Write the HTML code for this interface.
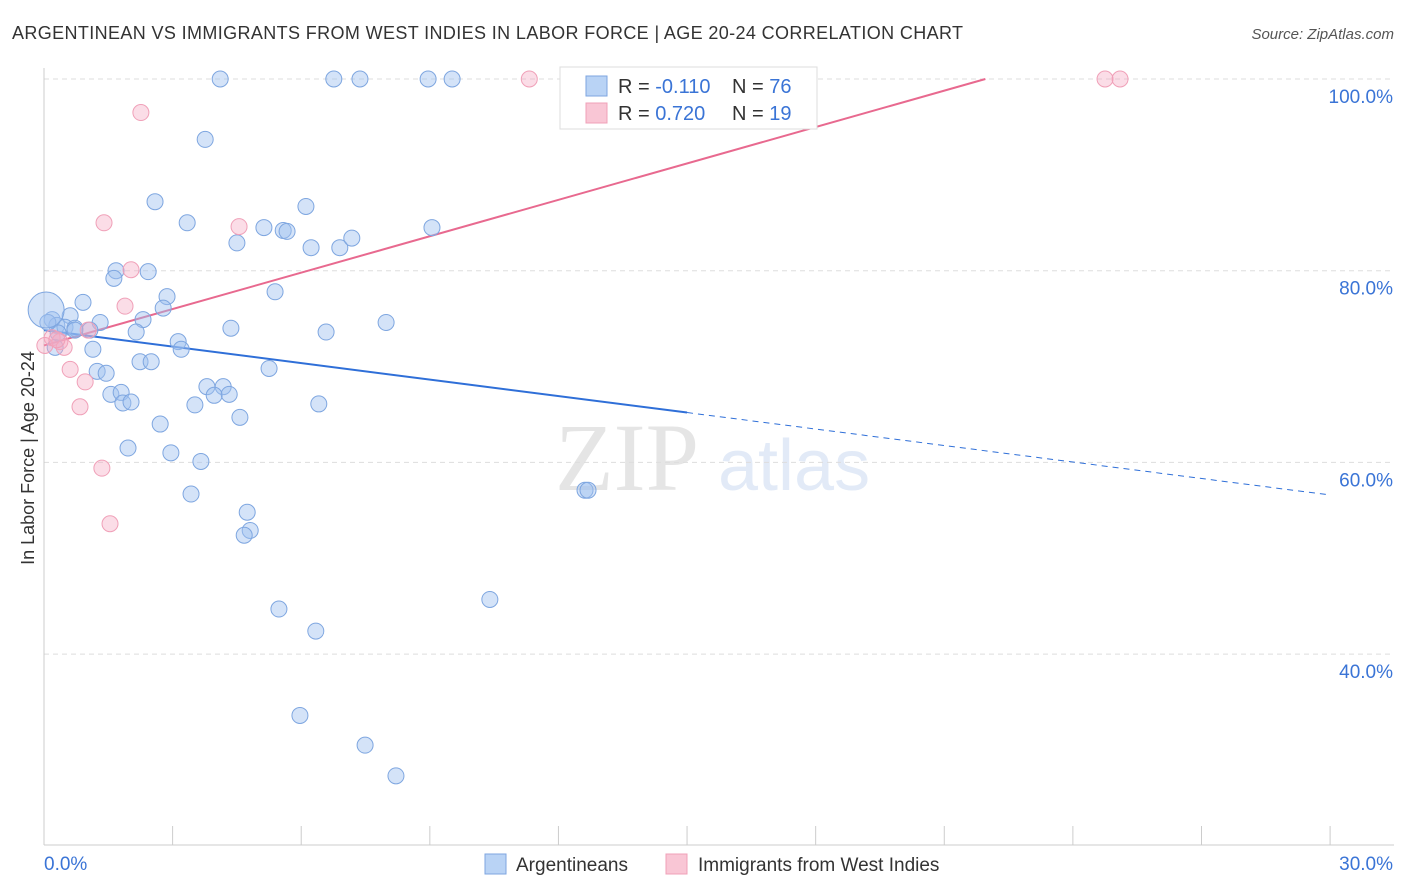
<!DOCTYPE html>
<html><head><meta charset="utf-8"><style>
body{margin:0;background:#fff;font-family:"Liberation Sans",sans-serif;}
svg{display:block}
</style></head><body>
<svg id="chart" width="1406" height="892">
<text x="12" y="39" font-size="18" fill="#333" textLength="951">ARGENTINEAN VS IMMIGRANTS FROM WEST INDIES IN LABOR FORCE | AGE 20-24 CORRELATION CHART</text>
<text x="1394" y="39" font-size="15" fill="#555" font-style="italic" text-anchor="end">Source: ZipAtlas.com</text>
<text x="0" y="0" transform="translate(34,458) rotate(-90)" font-size="18" fill="#333" text-anchor="middle">In Labor Force | Age 20-24</text>
<g opacity="0.25"><text x="555" y="490" font-family="Liberation Serif,serif" font-size="96" fill="#999">ZIP</text><text x="718" y="490" font-size="72" fill="#8fb0e0">atlas</text></g>
<g id="grid"></g><g id="axes"></g><g id="lines"></g><g id="pts"></g>
<g>
<rect x="560" y="67" width="257" height="62" fill="#fff" stroke="#ddd"/>
<rect x="586" y="76" width="21" height="20" fill="#b9d3f5" stroke="#7ea6e0"/>
<rect x="586" y="103" width="21" height="20" fill="#f9c6d5" stroke="#f0a0b8"/>
<text x="618" y="93" font-size="20" fill="#333">R = <tspan fill="#3a74d6">-0.110</tspan></text>
<text x="732" y="93" font-size="20" fill="#333">N = <tspan fill="#3a74d6">76</tspan></text>
<text x="618" y="120" font-size="20" fill="#333">R = <tspan fill="#3a74d6"> 0.720</tspan></text>
<text x="732" y="120" font-size="20" fill="#333">N = <tspan fill="#3a74d6">19</tspan></text>
</g>
<g>
<rect x="485" y="854" width="21" height="20" fill="#b9d3f5" stroke="#7ea6e0"/>
<text x="516" y="871" font-size="19" fill="#333">Argentineans</text>
<text x="698" y="871" font-size="19" fill="#333">Immigrants from West Indies</text>
<rect x="666" y="854" width="21" height="20" fill="#f9c6d5" stroke="#f0a0b8"/>
</g>
</svg>
<script>
const blueData=[[4.11,100],[6.76,100],[7.37,100],[8.96,100],[9.52,100],[3.76,93.7],[2.59,87.2],[3.34,85.0],[6.11,86.7],[5.13,84.5],[5.58,84.2],[5.67,84.1],[4.50,82.9],[6.23,82.4],[6.90,82.4],[7.18,83.4],[9.05,84.5],[1.68,80.0],[1.63,79.2],[2.43,79.9],[5.39,77.8],[2.87,77.3],[0.91,76.7],[2.78,76.1],[0.19,74.9],[0.61,75.3],[1.31,74.6],[2.31,74.9],[4.36,74.0],[6.58,73.6],[7.98,74.6],[0.30,74.3],[0.49,74.1],[0.72,74.0],[1.07,73.8],[2.15,73.6],[3.13,72.6],[3.20,71.8],[0.26,72.0],[1.14,71.8],[2.24,70.5],[2.50,70.5],[5.25,69.8],[1.24,69.5],[1.45,69.3],[3.80,67.9],[4.18,67.9],[1.56,67.1],[1.80,67.3],[3.97,67.0],[4.32,67.1],[1.84,66.2],[2.03,66.3],[3.52,66.0],[6.41,66.1],[4.57,64.7],[2.71,64.0],[1.96,61.5],[2.96,61.0],[3.66,60.1],[3.43,56.7],[12.62,57.1],[12.69,57.1],[4.74,54.8],[4.81,52.9],[4.67,52.4],[5.48,44.7],[10.40,45.7],[6.34,42.4],[5.97,33.6],[7.49,30.5],[8.21,27.3],[0.33,73.5],[0.09,74.6],[0.72,73.8]];
const blueBig=[[0.05,75.9]];
const pinkData=[[11.32,100],[24.75,100],[25.10,100],[2.26,96.5],[1.40,85.0],[4.55,84.6],[2.03,80.1],[1.89,76.3],[1.03,73.8],[0.19,73.0],[0.37,72.6],[0.47,72.0],[0.61,69.7],[0.96,68.4],[0.84,65.8],[1.35,59.4],[1.54,53.6],[0.02,72.2],[0.30,72.8]];
const blueTrend=[73.8,-0.5733];
const pinkTrend=[72.2,1.266];
const yTicks=[100,80,60,40];
const xTickVals=[0,3,6,9,12,15,18,21,24,27,30];
const NS='http://www.w3.org/2000/svg';
const X=v=>44+v*42.87, Y=v=>79+(100-v)*9.585;
function mk(tag,attrs,parent){const e=document.createElementNS(NS,tag);for(const k in attrs)e.setAttribute(k,attrs[k]);document.getElementById(parent).appendChild(e);return e;}
yTicks.forEach(t=>{
 const l=mk('line',{x1:44,x2:1394,y1:Y(t),y2:Y(t),stroke:'#ddd','stroke-dasharray':'5,4'},'grid');
 
 
 const tx=mk('text',{x:1393,y:Y(t)+24,'font-size':19,fill:'#3a74d6','text-anchor':'end'},'axes');
 tx.textContent=t.toFixed(1)+'%';
 
 
});
const ax=mk('line',{x1:44,x2:44,y1:68,y2:845,stroke:'#ccc'},'axes');


const bx=mk('line',{x1:44,x2:1394,y1:845,y2:845,stroke:'#ccc'},'axes');


xTickVals.forEach(t=>{const l=mk('line',{x1:X(t),x2:X(t),y1:826,y2:845,stroke:'#ccc'},'axes');
 
 });
[[0,'start',44],[30,'end',1393]].forEach(([v,a,x])=>{const t=mk('text',{x:x,y:870,'font-size':19,fill:'#3a74d6','text-anchor':a},'axes');t.textContent=v.toFixed(1)+'%';
 
 });
function pt(d,r,fill,stroke,name){const c=mk('circle',{cx:X(d[0]),cy:Y(d[1]),r:r,fill:fill,stroke:stroke,'stroke-width':1},'pts');
 
 }
blueData.forEach(d=>pt(d,8,'rgba(160,192,240,0.45)','#7ea6e0','argentinean-point'));
blueBig.forEach(d=>pt(d,18,'rgba(160,192,240,0.45)','#7ea6e0','argentinean-point'));
pinkData.forEach(d=>pt(d,8,'rgba(245,170,195,0.4)','#f0a0b8','west-indies-point'));
const b1=mk('line',{x1:X(0),y1:Y(blueTrend[0]),x2:X(15),y2:Y(blueTrend[0]+15*blueTrend[1]),stroke:'#2f6fd8','stroke-width':2},'lines');


const b2=mk('line',{x1:X(15),y1:Y(blueTrend[0]+15*blueTrend[1]),x2:X(30),y2:Y(blueTrend[0]+30*blueTrend[1]),stroke:'#2f6fd8','stroke-width':1,'stroke-dasharray':'6,5'},'lines');


const xe=(100-pinkTrend[0])/pinkTrend[1];
const p1=mk('line',{x1:X(0),y1:Y(pinkTrend[0]),x2:X(xe),y2:Y(100),stroke:'#e8698f','stroke-width':2},'lines');


</script>
</body></html>
